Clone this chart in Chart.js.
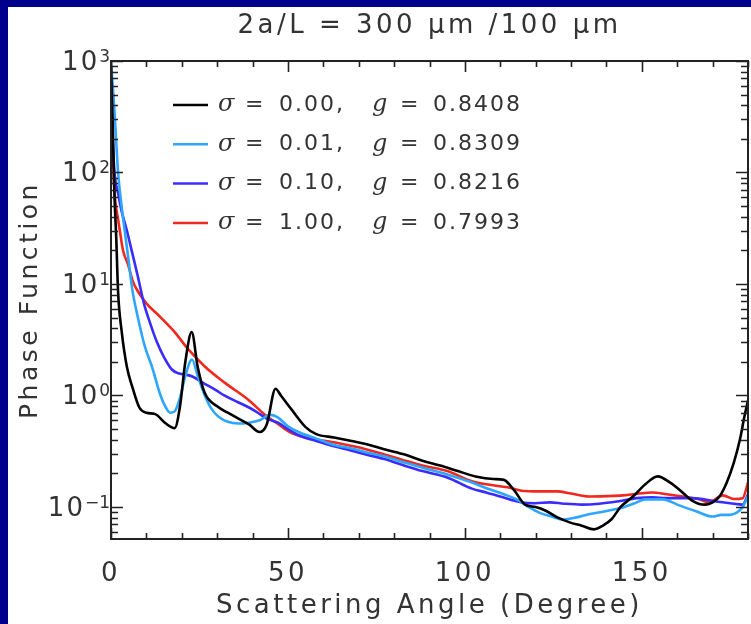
<!DOCTYPE html>
<html>
<head>
<meta charset="utf-8">
<script src="https://cdn.jsdelivr.net/npm/chart.js@4.4.1/dist/chart.umd.min.js"></script>
<style>
html, body { margin: 0; padding: 0; width: 751px; height: 624px; overflow: hidden; background: #00008c; }
#panel { position: absolute; left: 8px; top: 7px; width: 743px; height: 617px; background: #fff; }
</style>
</head>
<body>
<div id="panel"><canvas id="phaseGraph" width="743" height="617"></canvas></div>
<script>
// tick values and labels
const xTickValues = [0, 50, 100, 150];
const yTickValues = [0.1, 1, 10, 100, 1000];
const yTickExponents = ['\u22121', '0', '1', '2', '3'];

// legend text
const legendSigma = ['0.00', '0.01', '0.10', '1.00'];
const legendG = ['0.8408', '0.8309', '0.8216', '0.7993'];
const seriesColors = ['#000000', '#2ea6ff', '#3a2cff', '#f0281e'];

// sigma = 0.00
const angle0 = [0, 0.5, 1, 1.5, 2, 3, 4.5, 6, 8, 10, 12.5, 15.5, 18, 19.5, 21, 22.8, 24.5, 26.5, 30, 33, 36, 39, 42, 44, 46.5, 48, 51, 55, 58, 63, 68, 73, 78, 83, 88, 93, 98, 103, 108, 111, 114, 117, 120, 123, 126, 130, 133, 136.5, 139, 141.5, 144, 147.5, 151, 154.5, 158, 161.5, 164, 166, 168, 170, 172, 174, 176, 177.7, 179, 180];
const phase0 = [900, 250, 60, 25, 8.5, 3.8, 1.8, 1.2, 0.78, 0.70, 0.68, 0.56, 0.51, 0.8, 2.0, 3.7, 1.8, 1.05, 0.8, 0.7, 0.62, 0.55, 0.47, 0.55, 1.15, 1.0, 0.75, 0.52, 0.45, 0.42, 0.39, 0.36, 0.325, 0.295, 0.26, 0.235, 0.21, 0.188, 0.178, 0.175, 0.14, 0.105, 0.1, 0.092, 0.081, 0.072, 0.068, 0.063, 0.068, 0.078, 0.1, 0.124, 0.16, 0.188, 0.165, 0.135, 0.115, 0.107, 0.105, 0.11, 0.125, 0.166, 0.25, 0.4, 0.65, 0.9];

// sigma = 0.01
const angle1 = [0, 0.5, 1, 2, 3, 4, 5, 6, 7.6, 9.5, 11.6, 14, 15.5, 16.7, 18, 19.5, 21, 22.9, 24.5, 26.5, 28.5, 30.5, 33, 36, 39, 42, 45, 47, 50, 53, 58, 63, 68, 72, 77, 82, 88, 95, 101, 107, 111, 114.6, 118, 121, 124, 127.7, 131, 135, 140, 144.6, 148, 151, 156, 160, 165.5, 170, 172.5, 175, 177, 178.5, 180];
const phase1 = [950, 600, 350, 100, 50, 28, 16, 9, 5, 2.8, 1.8, 1.0, 0.78, 0.70, 0.72, 0.95, 1.5, 2.1, 1.5, 1.0, 0.75, 0.64, 0.58, 0.56, 0.57, 0.6, 0.67, 0.64, 0.53, 0.47, 0.41, 0.36, 0.335, 0.31, 0.285, 0.256, 0.225, 0.196, 0.17, 0.144, 0.13, 0.117, 0.1, 0.089, 0.083, 0.077, 0.08, 0.086, 0.092, 0.099, 0.108, 0.117, 0.117, 0.105, 0.091, 0.082, 0.085, 0.085, 0.09, 0.1, 0.125];

// sigma = 0.10
const angle2 = [0, 0.5, 1, 2, 3, 4.5, 6, 7.5, 9.3, 11, 13, 15, 17.2, 19, 21, 23, 26, 29.4, 32, 35.9, 39, 41.5, 44, 47.2, 50, 53, 58, 63, 68, 72, 77, 82, 88, 95, 102, 106, 110, 116, 120, 124, 128, 133, 138, 143, 148.6, 153, 157, 164, 171, 175, 178.5, 180];
const phase2 = [800, 200, 100, 65, 45, 30, 19, 12, 6.7, 4.5, 3.0, 2.2, 1.71, 1.58, 1.54, 1.48, 1.3, 1.13, 1.0, 0.87, 0.78, 0.70, 0.62, 0.57, 0.5, 0.44, 0.39, 0.35, 0.32, 0.296, 0.27, 0.24, 0.21, 0.184, 0.146, 0.135, 0.124, 0.11, 0.108, 0.11, 0.107, 0.105, 0.107, 0.112, 0.12, 0.122, 0.12, 0.12, 0.112, 0.108, 0.105, 0.13];

// sigma = 1.00
const angle3 = [0, 0.3, 0.7, 1.1, 2, 2.5, 3.4, 4.8, 6.2, 7.6, 10, 13.8, 18, 21.8, 26.5, 32, 38.7, 44, 47, 50.5, 55, 63, 72, 82, 88, 95, 102, 107, 112, 116, 121, 126, 130, 135, 140, 144.6, 147.5, 153, 157, 161.6, 166, 169, 172.9, 176, 178.5, 180];
const phase3 = [1000, 300, 100, 60, 38, 30, 20, 15, 10.5, 8.6, 6.7, 5.1, 3.7, 2.6, 1.82, 1.31, 0.92, 0.65, 0.56, 0.47, 0.42, 0.38, 0.33, 0.267, 0.235, 0.21, 0.17, 0.158, 0.15, 0.14, 0.138, 0.138, 0.132, 0.124, 0.125, 0.127, 0.13, 0.135, 0.13, 0.124, 0.118, 0.11, 0.127, 0.118, 0.12, 0.166];

const angles = [angle0, angle1, angle2, angle3];
const phases = [phase0, phase1, phase2, phase3];

const textColor = '#333';
const sansFont = "'DejaVu Sans', sans-serif";
const serifFont = "'DejaVu Serif', serif";

// the reference font is a wide one, so spread the letters out
const wideText = {
    id: 'wideText',
    beforeDraw(chart) {
        chart.ctx.letterSpacing = '3.5px';
    }
};

// IDL style box with inward ticks on all four sides, plus 10^n labels
const idlAxes = {
    id: 'idlAxes',
    afterDatasetsDraw(chart) {
        const { ctx, chartArea: a, scales: { x, y } } = chart;
        ctx.save();
        ctx.strokeStyle = '#222';
        ctx.lineWidth = 1.6;
        ctx.beginPath();
        for (let v = 0; v <= 180; v += 10) {
            const px = Math.round(x.getPixelForValue(v)) + 0.5;
            const len = xTickValues.includes(v) ? 11 : 6;
            ctx.moveTo(px, a.bottom); ctx.lineTo(px, a.bottom - len);
            ctx.moveTo(px, a.top); ctx.lineTo(px, a.top + len);
        }
        for (let d = 0.01; d <= 1000; d *= 10) {
            for (let m = 1; m < 10; m++) {
                const v = m * d;
                if (v < y.min || v > y.max) continue;
                const py = Math.round(y.getPixelForValue(v)) + 0.5;
                const len = m === 1 ? 12 : 7;
                ctx.moveTo(a.left, py); ctx.lineTo(a.left + len, py);
                ctx.moveTo(a.right, py); ctx.lineTo(a.right - len, py);
            }
        }
        ctx.stroke();
        ctx.lineWidth = 2;
        ctx.strokeRect(a.left, a.top, a.right - a.left, a.bottom - a.top);

        // y tick labels with a real superscript
        ctx.fillStyle = textColor;
        ctx.textAlign = 'right';
        yTickValues.forEach((v, i) => {
            const py = y.getPixelForValue(v);
            const xr = a.left - 1;
            ctx.letterSpacing = '0px';
            ctx.font = `17px ${sansFont}`;
            ctx.textBaseline = 'alphabetic';
            ctx.fillText(yTickExponents[i], xr, py + 1);
            const ew = ctx.measureText(yTickExponents[i]).width;
            ctx.letterSpacing = '2px';
            ctx.font = `26px ${sansFont}`;
            ctx.textBaseline = 'middle';
            ctx.fillText('10', xr - ew, py + 2);
        });
        ctx.restore();
    }
};

// legend drawn inside the plot area
const insideLegend = {
    id: 'insideLegend',
    afterDatasetsDraw(chart) {
        const { ctx } = chart;
        ctx.save();
        ctx.textBaseline = 'middle';
        ctx.letterSpacing = '2px';
        legendSigma.forEach((s, i) => {
            const yy = 98 + i * 39.3;
            ctx.strokeStyle = seriesColors[i];
            ctx.lineWidth = 2.5;
            ctx.beginPath();
            ctx.moveTo(165, yy); ctx.lineTo(200, yy);
            ctx.stroke();
            ctx.fillStyle = textColor;
            ctx.font = `italic 24px ${serifFont}`;
            ctx.fillText('\u03C3', 210, yy);
            ctx.fillText('g', 364, yy);
            ctx.font = `22px ${sansFont}`;
            ctx.fillText('=', 237, yy);
            ctx.fillText(s + ',', 271, yy);
            ctx.fillText('=', 392, yy);
            ctx.fillText(legendG[i], 425, yy);
        });
        ctx.restore();
    }
};

const datasets = phases.map((p, i) => ({
    label: legendSigma[i],
    data: p.map((v, j) => ({ x: angles[i][j], y: v })),
    borderColor: seriesColors[i],
    borderWidth: 2.6,
    pointRadius: 0,
    cubicInterpolationMode: 'monotone',
    fill: false
}));

const phaseGraph = new Chart('phaseGraph', {
    type: 'line',
    data: { datasets: datasets },
    options: {
        responsive: false,
        animation: false,
        layout: { padding: { left: 0, right: 3, top: 0, bottom: 0 } },
        plugins: {
            legend: { display: false },
            tooltip: { enabled: false },
            title: {
                display: true,
                fullSize: false,
                text: '2a/L = 300 \u03BCm /100 \u03BCm',
                color: textColor,
                font: { family: sansFont, size: 26, weight: 'normal' },
                padding: { top: 4, bottom: 18.8 }
            }
        },
        scales: {
            x: {
                type: 'linear',
                min: 0,
                max: 180,
                grid: { display: false, drawTicks: false },
                border: { display: false },
                afterBuildTicks: s => { s.ticks = xTickValues.map(v => ({ value: v })); },
                afterFit: s => { s.height = 85; },
                ticks: { color: textColor, font: { family: sansFont, size: 26 }, padding: 20, maxRotation: 0, autoSkip: false },
                title: { display: true, text: 'Scattering Angle (Degree)', color: textColor, font: { family: sansFont, size: 26 }, padding: { top: 0, bottom: 2 } }
            },
            y: {
                type: 'logarithmic',
                min: 0.0516,
                max: 1000,
                grid: { display: false, drawTicks: false },
                border: { display: false },
                afterBuildTicks: s => { s.ticks = yTickValues.map(v => ({ value: v })); },
                afterFit: s => { s.width = 103; },
                ticks: { display: false },
                title: { display: true, text: 'Phase Function', color: textColor, font: { family: sansFont, size: 25 }, padding: { top: 7, bottom: 0 } }
            }
        }
    },
    plugins: [wideText, idlAxes, insideLegend]
});
</script>
</body>
</html>
